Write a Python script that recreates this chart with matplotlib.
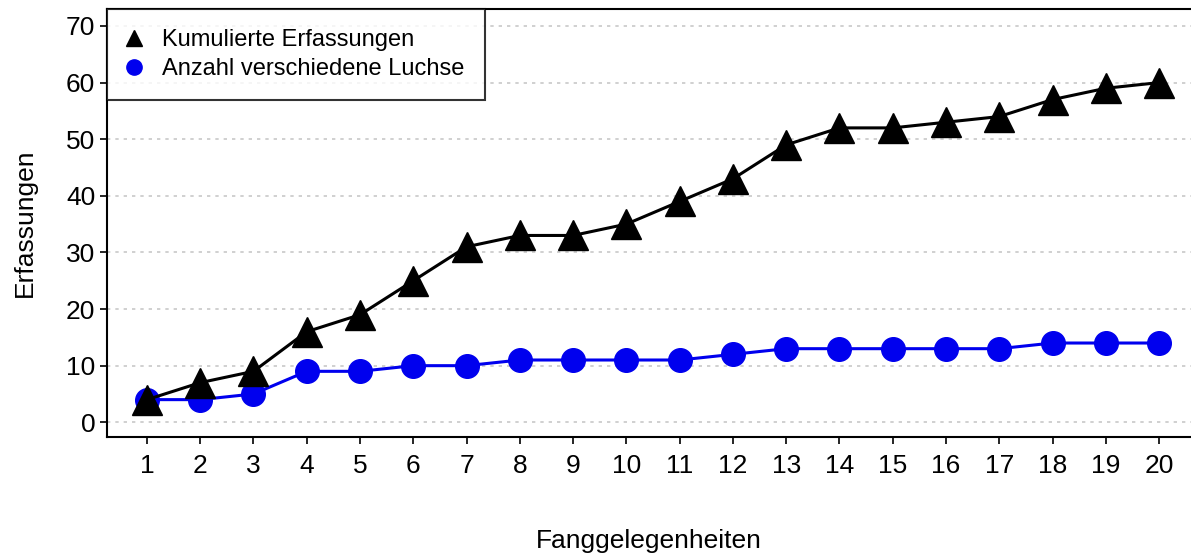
import matplotlib
matplotlib.use("Agg")
from matplotlib import pyplot as plt
from matplotlib.lines import Line2D

plt.rcParams["font.family"] = ["Liberation Sans", "DejaVu Sans"]

# Data
occasions = list(range(1, 21))
cumulative = [4, 7, 9, 16, 19, 25, 31, 33, 33, 35, 39, 43, 49, 52, 52, 53, 54, 57, 59, 60]
individuals = [4, 4, 5, 9, 9, 10, 10, 11, 11, 11, 11, 12, 13, 13, 13, 13, 13, 14, 14, 14]
y_ticks = [0, 10, 20, 30, 40, 50, 60, 70]

fig = plt.figure(figsize=(11.91, 5.56), dpi=100)
ax = fig.add_axes([107 / 1191, 1 - 437 / 556, (1191 - 107) / 1191, (437 - 9) / 556])

# Blue series below, black on top
ax.plot(occasions, individuals, color="#0000ee", linewidth=2.2,
        marker="o", markersize=17, zorder=3)
ax.plot(occasions, cumulative, color="black", linewidth=2.2,
        marker="^", markersize=21, zorder=4)

ax.set_xlim(0.25, 20.6)
ax.set_ylim(-2.6, 73)
ax.set_xticks(occasions)
ax.set_yticks(y_ticks)
ax.tick_params(labelsize=19, direction="out", length=5, width=1.2)
ax.tick_params(axis="x", pad=7)
ax.yaxis.grid(True, linestyle=(0, (2, 3)), color="#c8c8c8", linewidth=1.2)
ax.set_axisbelow(True)

for side in ["left", "bottom", "top"]:
    ax.spines[side].set_linewidth(1.5)
ax.spines["right"].set_visible(False)

ax.set_xlabel("Fanggelegenheiten", fontsize=19, labelpad=37)
ax.set_ylabel("Erfassungen", fontsize=19, labelpad=21)

handles = [
    Line2D([], [], color="black", marker="^", linestyle="none", markersize=12),
    Line2D([], [], color="#0000ee", marker="o", linestyle="none", markersize=11),
]
leg = ax.legend(handles, ["Kumulierte Erfassungen", "Anzahl verschiedene Luchse"],
                loc="upper left", bbox_to_anchor=(0, 1), borderaxespad=0,
                fontsize=17, frameon=True, fancybox=False, edgecolor="black",
                handletextpad=0.9, handlelength=0.6, borderpad=0.85,
                labelspacing=0.3)
leg.get_frame().set_linewidth(1.5)
leg.set_zorder(10)

fig.savefig("out.png", dpi=100)
